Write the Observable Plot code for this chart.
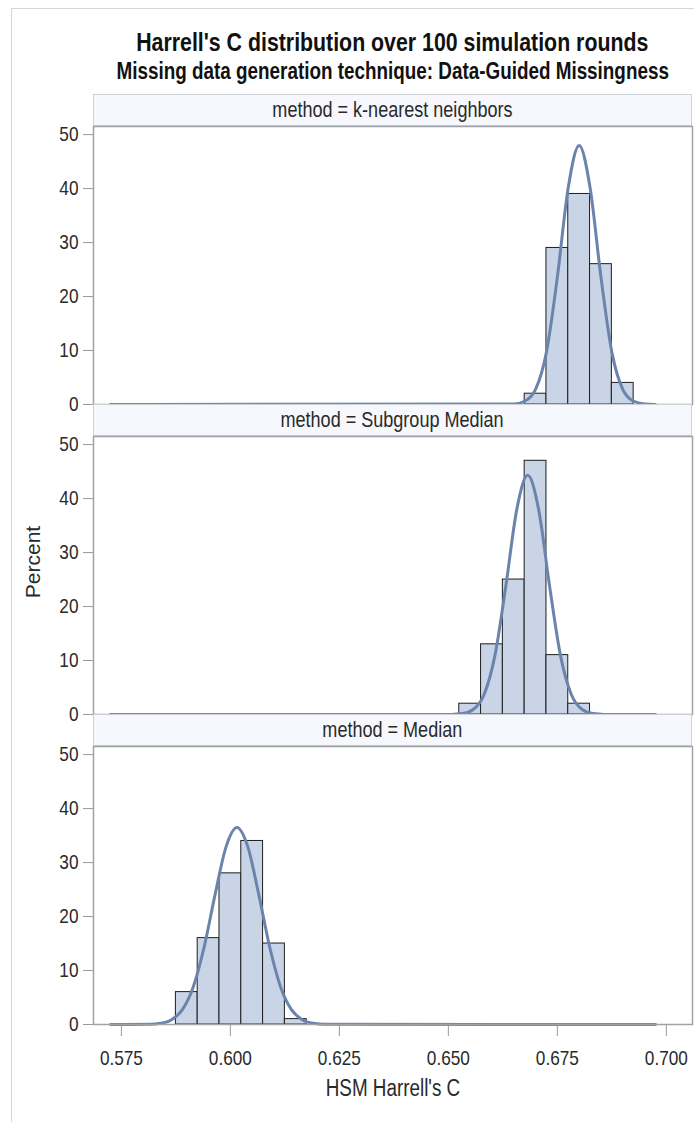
<!DOCTYPE html>
<html><head><meta charset="utf-8">
<script src="https://cdn.jsdelivr.net/npm/d3@7"></script>
<script src="https://cdn.jsdelivr.net/npm/@observablehq/plot@0.6"></script>
<style>
html,body{margin:0;padding:0;background:#fff;}
#page{position:relative;width:694px;height:1122px;overflow:hidden;font-family:"Liberation Sans",Arial,sans-serif;color:#222;}
.border{position:absolute;left:11px;top:8px;width:800px;height:1200px;border-left:1px solid #d6d6d6;border-top:1px solid #d6d6d6;}
.title{position:absolute;left:-7.5px;width:800px;text-align:center;font-weight:bold;white-space:nowrap;color:#111;}
.cond{display:inline-block;transform:scaleX(0.82);transform-origin:50% 50%;white-space:nowrap;}
.header{position:absolute;left:93px;width:597px;height:30px;border:1px solid #cdd0d4;background:#f6f8fe;text-align:center;line-height:30px;font-size:22px;color:#2a2a2a;overflow:visible;white-space:nowrap;}
.panel{position:absolute;left:0;}
.ylab{position:absolute;left:33px;top:562px;transform:translate(-50%,-50%) rotate(-90deg);font-size:21px;color:#2a2a2a;white-space:nowrap;}
</style></head>
<body>
<div id="page">
  <div class="border"></div>
  <div class="title" style="top:27px;font-size:26px;line-height:30px;"><span class="cond" id="t1"></span></div>
  <div class="title" style="top:57px;font-size:23px;line-height:28px;"><span class="cond" id="t2"></span></div>
  <div class="header" style="top:94px;"><span class="cond" id="h0"></span></div>
  <div class="panel" id="p0" style="top:125px;"></div>
  <div class="header" style="top:404px;"><span class="cond" id="h1"></span></div>
  <div class="panel" id="p1" style="top:435px;"></div>
  <div class="header" style="top:714px;"><span class="cond" id="h2"></span></div>
  <div class="panel" id="p2" style="top:745px;"></div>
  <div class="ylab" id="ylab"></div>
</div>
<script>
// ---- text ----
const titleText = "Harrell's C distribution over 100 simulation rounds";
const subtitleText = "Missing data generation technique: Data-Guided Missingness";
const methods = ["k-nearest neighbors", "Subgroup Median", "Median"];
const xLabel = "HSM Harrell's C";
const yLabel = "Percent";

// ---- axis ticks ----
const xTicks = [0.575, 0.600, 0.625, 0.650, 0.675, 0.700];
const yTicks = [0, 10, 20, 30, 40, 50];
const binWidth = 0.005;

// ---- histogram bins (bin centres, percent) ----
const knnCenters = [0.670, 0.675, 0.680, 0.685, 0.690];
const knnPercent = [2, 29, 39, 26, 4];
const subCenters = [0.655, 0.660, 0.665, 0.670, 0.675, 0.680];
const subPercent = [2, 13, 25, 47, 11, 2];
const medCenters = [0.590, 0.595, 0.600, 0.605, 0.610, 0.615];
const medPercent = [6, 16, 28, 34, 15, 1];

// ---- normal density curves [x, percent] ----
const knnCurve = [[0.5725,0],[0.665,0.1],[0.6675,0.6],[0.670,2.8],[0.6725,9.7],[0.675,23.6],[0.6775,40.2],[0.680,48],[0.6825,40.2],[0.685,23.6],[0.6875,9.7],[0.690,2.8],[0.6925,0.6],[0.695,0.1],[0.6975,0]];
const subCurve = [[0.5725,0],[0.6507,0.02],[0.6532,0.17],[0.6557,0.93],[0.6582,3.7],[0.6607,11.0],[0.6632,23.9],[0.6657,38.0],[0.6682,44.3],[0.6707,38.0],[0.6732,23.9],[0.6757,11.0],[0.6782,3.7],[0.6807,0.93],[0.6832,0.17],[0.6857,0.02],[0.6975,0]];
const medCurve = [[0.5725,0],[0.5815,0.05],[0.584,0.23],[0.5865,0.89],[0.589,2.76],[0.5915,7.0],[0.594,14.4],[0.5965,24.1],[0.599,32.9],[0.6015,36.5],[0.604,32.9],[0.6065,24.1],[0.609,14.4],[0.6115,7.0],[0.614,2.76],[0.6165,0.89],[0.619,0.23],[0.6215,0.05],[0.6975,0]];

const panels = [
  {centers: knnCenters, percent: knnPercent, curve: knnCurve},
  {centers: subCenters, percent: subPercent, curve: subCurve},
  {centers: medCenters, percent: medPercent, curve: medCurve}
];

const xDomain = [0.5686, 0.7060];
const yDomain = [0, 51.5];
const squeeze = 0.82;

document.getElementById("t1").textContent = titleText;
document.getElementById("t2").textContent = subtitleText;
document.getElementById("ylab").textContent = yLabel;

// narrow every SVG text horizontally around its own anchor point
function condense(svg, k) {
  svg.querySelectorAll("text").forEach(t => {
    const xa = t.getAttribute("x");
    let shift = "";
    if (xa !== null && /^-?[\d.]+$/.test(xa.trim())) {
      shift = ` translate(${+xa},0)`;
      t.removeAttribute("x");
    }
    const tr = t.getAttribute("transform") || "";
    t.setAttribute("transform", `${tr}${shift} scale(${k},1)`);
  });
}

panels.forEach((p, i) => {
  document.getElementById("h" + i).textContent = "method = " + methods[i];
  const bottom = i === 2;
  const bins = p.centers.map((c, j) => ({x1: c - binWidth / 2, x2: c + binWidth / 2, pct: p.percent[j]}));
  const marks = [
    Plot.rectY(bins, {x1: "x1", x2: "x2", y: "pct", fill: "#c9d5e6", stroke: "#1e1e1e", strokeWidth: 1}),
    Plot.line(p.curve, {x: d => d[0], y: d => d[1], stroke: "#6a84ab", strokeWidth: 3, curve: "monotone-x"}),
    Plot.frame({stroke: "#9ea3a8", strokeWidth: 1.5}),
    Plot.axisY({ticks: yTicks, tickSize: 10, tickPadding: 5, label: null, stroke: "#9a9a9a", fill: "#2a2a2a"})
  ];
  if (bottom) {
    marks.push(Plot.axisX({ticks: xTicks, tickFormat: d3.format(".3f"), tickSize: 12, tickPadding: 14, label: null, stroke: "#9a9a9a", fill: "#2a2a2a"}));
    marks.push(Plot.text([xLabel], {frameAnchor: "bottom", dy: 64, lineAnchor: "middle", fontSize: 23, fill: "#2a2a2a"}));
  }
  const chart = Plot.plot({
    width: 694,
    height: bottom ? 1 + 278 + 80 : 1 + 278 + 1,
    marginLeft: 93, marginRight: 2, marginTop: 1, marginBottom: bottom ? 80 : 1,
    x: {domain: xDomain, axis: bottom ? undefined : null},
    y: {domain: yDomain},
    style: {fontFamily: "'Liberation Sans',Arial,sans-serif", fontSize: "21px", background: "transparent", overflow: "visible"},
    marks
  });
  condense(chart, squeeze);
  document.getElementById("p" + i).appendChild(chart);
});
</script>
</body></html>
